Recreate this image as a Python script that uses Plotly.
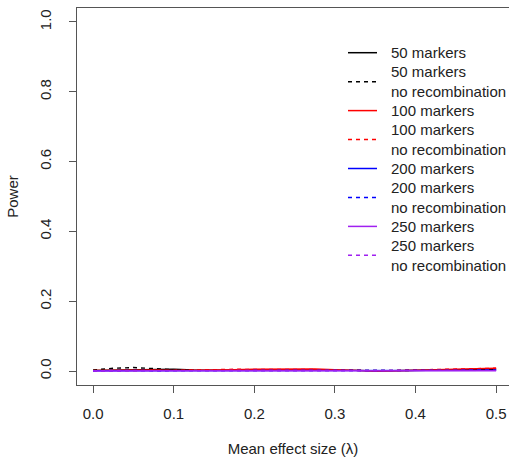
import plotly.graph_objects as go

effect_size = [0.0, 0.025, 0.05, 0.075, 0.1, 0.125, 0.15, 0.175, 0.2, 0.225, 0.25,
               0.275, 0.3, 0.325, 0.35, 0.375, 0.4, 0.425, 0.45, 0.475, 0.5]

power_50 = [0.002, 0.003, 0.004, 0.004, 0.005, 0.003, 0.002, 0.002, 0.003, 0.003, 0.004,
            0.003, 0.003, 0.002, 0.000, 0.001, 0.002, 0.003, 0.004, 0.004, 0.005]
power_50_norec = [0.003, 0.008, 0.010, 0.006, 0.004, 0.002, 0.001, 0.002, 0.002, 0.003, 0.004,
                  0.004, 0.003, 0.002, 0.000, 0.001, 0.002, 0.003, 0.004, 0.005, 0.005]
power_100 = [0.002, 0.003, 0.003, 0.003, 0.002, 0.002, 0.003, 0.004, 0.005, 0.006, 0.007,
             0.006, 0.004, 0.002, 0.000, 0.001, 0.002, 0.004, 0.005, 0.007, 0.008]
power_100_norec = [0.001, 0.002, 0.003, 0.002, 0.002, 0.002, 0.004, 0.005, 0.005, 0.006, 0.006,
                   0.005, 0.004, 0.002, 0.000, 0.002, 0.003, 0.004, 0.006, 0.007, 0.008]
power_200 = [0.001, 0.001, 0.002, 0.001, 0.001, 0.001, 0.001, 0.001, 0.002, 0.002, 0.002,
             0.001, 0.001, 0.001, 0.000, 0.001, 0.001, 0.001, 0.002, 0.002, 0.002]
power_200_norec = [0.001, 0.002, 0.002, 0.001, 0.001, 0.001, 0.002, 0.002, 0.002, 0.002, 0.002,
                   0.002, 0.001, 0.001, 0.000, 0.001, 0.001, 0.002, 0.002, 0.003, 0.003]
power_250 = [0.000, 0.001, 0.001, 0.001, 0.001, 0.001, 0.001, 0.001, 0.001, 0.001, 0.001,
             0.001, 0.001, 0.000, 0.000, 0.000, 0.001, 0.001, 0.001, 0.001, 0.001]
power_250_norec = [0.001, 0.001, 0.001, 0.001, 0.001, 0.001, 0.001, 0.001, 0.001, 0.002, 0.002,
                   0.001, 0.001, 0.001, 0.000, 0.001, 0.001, 0.001, 0.001, 0.002, 0.002]

series_names = ["50 markers", "50 markers\nno recombination",
                "100 markers", "100 markers\nno recombination",
                "200 markers", "200 markers\nno recombination",
                "250 markers", "250 markers\nno recombination"]
series_values = [power_50, power_50_norec, power_100, power_100_norec,
                 power_200, power_200_norec, power_250, power_250_norec]
series_colors = ["#000000", "#000000", "#ff0000", "#ff0000",
                 "#0000ff", "#0000ff", "#a020f0", "#a020f0"]
series_dashed = [False, True, False, True, False, True, False, True]

x_ticks = [0.0, 0.1, 0.2, 0.3, 0.4, 0.5]
y_ticks = [0.0, 0.2, 0.4, 0.6, 0.8, 1.0]

W, H = 509, 463
L, R, T, B = 77, 0, 8, 78
PW, PH = W - L - R, H - T - B
FONT = "Liberation Sans, Arial, sans-serif"
TXT = "#222222"

fig = go.Figure()
for name, vals, col, dsh in zip(series_names, series_values, series_colors, series_dashed):
    fig.add_trace(go.Scatter(
        x=effect_size, y=vals, mode="lines", name=name.replace("\n", " "),
        line=dict(color=col, width=1.4, dash="4px,4px" if dsh else "solid"),
        showlegend=False))

# manual legend (R-style), positioned in pixels converted to paper coords
def px2x(px):
    return (px - L) / PW

def py2y(py):
    return (T + PH - py) / PH

shapes = []
annotations = []
line_y = 52.7
step = 19.3
for name, col, dsh in zip(series_names, series_colors, series_dashed):
    lines = name.split("\n")
    ys = [line_y + step * i for i in range(len(lines))]
    mid = sum(ys) / len(ys)
    shapes.append(dict(type="line", xref="paper", yref="paper",
                       x0=px2x(348), x1=px2x(377), y0=py2y(mid), y1=py2y(mid),
                       line=dict(color=col, width=1.5, dash="4px,4px" if dsh else "solid")))
    for t, yy in zip(lines, ys):
        annotations.append(dict(text=t, xref="paper", yref="paper", x=px2x(389), y=py2y(yy),
                                xanchor="left", yanchor="middle", showarrow=False,
                                font=dict(family=FONT, size=15, color=TXT)))
    line_y += step * len(lines)

axis_common = dict(showline=True, linecolor="#555555", linewidth=1, mirror=True,
                   ticks="outside", ticklen=7, tickcolor="#555555", tickwidth=1,
                   showgrid=False, zeroline=False,
                   tickfont=dict(family=FONT, size=15, color=TXT))

fig.update_layout(
    width=W, height=H,
    margin=dict(l=L, r=R, t=T, b=B),
    paper_bgcolor="white", plot_bgcolor="white",
    font=dict(family=FONT, size=15, color=TXT),
    xaxis=dict(range=[-0.02, 0.516], tickvals=x_ticks, tickformat=".1f",
               title=dict(text="Mean effect size (λ)", font=dict(family=FONT, size=15, color=TXT),
                          standoff=22),
               ticklabelstandoff=8, **axis_common),
    yaxis=dict(range=[-0.04, 1.04], tickvals=y_ticks, tickformat=".1f", tickangle=-90,
               title=dict(text="Power", font=dict(family=FONT, size=15, color=TXT), standoff=14),
               ticklabelstandoff=12, **axis_common),
    shapes=shapes, annotations=annotations,
)

fig.write_html("out.html")
